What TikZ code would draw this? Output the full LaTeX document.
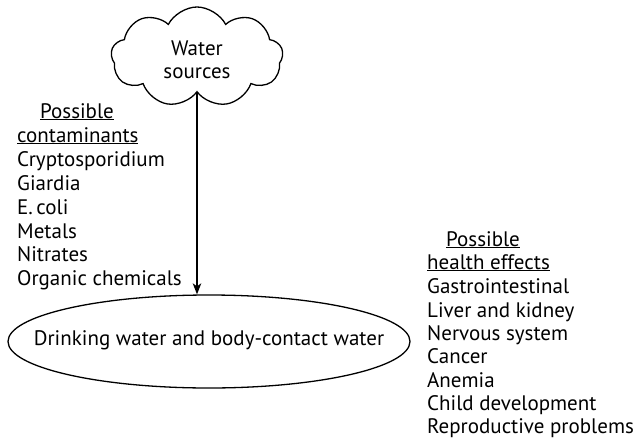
\documentclass[tikz,border=0pt]{standalone}
\usepackage{fontspec}
\setmainfont{PT Sans}
\usetikzlibrary{shapes.symbols,shapes.geometric,arrows.meta}
\begin{document}
\begin{tikzpicture}[x=1pt,y=-1pt,
  txt/.style={font=\fontsize{21}{23.5}\selectfont},
  item/.style={txt, anchor=base west, inner sep=0pt},
  outline/.style={draw, line width=1.3pt},
  flow/.style={line width=1.3pt, -{Stealth[length=11pt,width=8.5pt,inset=3pt]}}]
\useasboundingbox (0,0) rectangle (637,442);

% source cloud and receiving water body
\node[cloud, outline, cloud puffs=9, cloud puff arc=125, aspect=1.7,
      minimum width=172pt, minimum height=100pt, inner sep=0pt]
      (src) at (197,57) {};
\node[txt, align=center, inner sep=0pt, yshift=-3pt] (srctext) at (src.center) {Water\\sources};
\node[ellipse, outline, minimum width=402pt, minimum height=93pt,
      inner sep=0pt] (sink) at (209,341.5) {};
\node[txt, inner sep=0pt, anchor=base, yshift=-3.5pt] (sinktext) at (sink.center)
      {Drinking water and body-contact water};

\draw[flow] (src.south) -- (src.south |- sink.north);

% contaminant list
\node[item] (c0) at (40,118) {\underline{Possible}};
\node[item] (c1) at (17,142) {\underline{contaminants}};
\node[item] (c2) at (17,166) {Cryptosporidium};
\node[item] (c3) at (17,190) {Giardia};
\node[item] (c4) at (17,214) {E.\,coli};
\node[item] (c5) at (17,238) {Metals};
\node[item] (c6) at (17,261) {Nitrates};
\node[item] (c7) at (17,285) {Organic chemicals};

% health effects list
\node[item] (h0) at (446,246) {\underline{Possible}};
\node[item] (h1) at (427,269) {\underline{health effects}};
\node[item] (h2) at (427,293) {Gastrointestinal};
\node[item] (h3) at (427,317) {Liver and kidney};
\node[item] (h4) at (427,340) {Nervous system};
\node[item] (h5) at (427,363) {Cancer};
\node[item] (h6) at (427,387) {Anemia};
\node[item] (h7) at (427,410) {Child development};
\node[item] (h8) at (427,433) {Reproductive problems};
\end{tikzpicture}
\end{document}
